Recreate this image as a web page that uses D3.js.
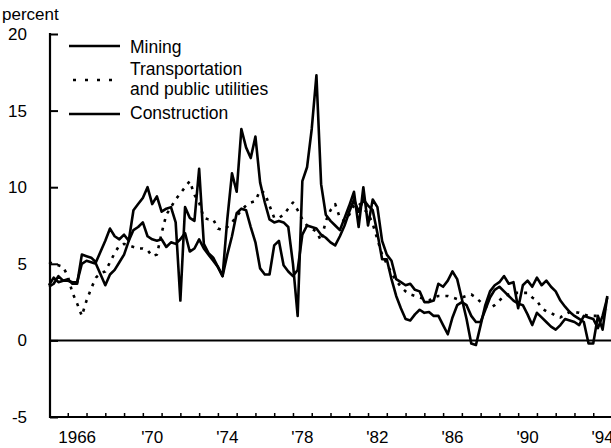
<!DOCTYPE html>
<html>
<head>
<meta charset="utf-8">
<script src="https://cdn.jsdelivr.net/npm/d3@7"></script>
<style>
  body { margin: 0; background: #fff; }
  svg { display: block; font-family: "Liberation Sans", Arial, Helvetica, sans-serif; }
</style>
</head>
<body>
<svg id="chart" width="611" height="448"></svg>
<script>
// quarterly series, 1965 Q1 .. 1994 Q4 (percent)
const startYear = 1965;

const mining = [
  3.6, 4.1, 3.8, 3.9,   4.0, 3.7, 3.7, 5.6,   5.5, 5.4, 5.1, 5.8,   6.5, 7.3, 6.8, 6.6,
  6.9, 6.5, 8.5, 8.9,   9.3, 10.0, 8.9, 9.4,  8.4, 8.6, 8.7, 7.7,   2.6, 8.7, 8.0, 7.8,
  11.2, 6.3, 5.7, 5.4,  4.8, 4.2, 7.9, 10.9,  9.7, 13.8, 12.6, 11.9, 13.3, 10.3, 9.0, 7.9,
  7.7, 7.8, 7.7, 7.4,   5.0, 1.6, 10.4, 11.3, 13.8, 17.3, 10.2, 8.2, 7.8, 7.5, 7.2, 8.0,
  8.8, 9.7, 7.4, 10.0,  7.5, 9.2, 8.7, 6.5,   5.6, 5.2, 4.0, 3.8,   3.6, 3.7, 3.3, 3.2,
  2.5, 2.5, 2.6, 3.7,   3.5, 3.9, 4.5, 4.0,   2.7, 1.4, -0.2, -0.3, 1.0, 2.3, 3.2, 3.6,
  3.8, 4.2, 3.7, 3.8,   2.1, 3.6, 3.9, 3.5,   4.1, 3.6, 3.9, 3.5,   3.2, 2.6, 2.2, 1.85,
  1.6, 1.4, 1.2, -0.2,  -0.2, 1.6, 0.7, 2.9
];

const transport = [
  5.1, 5.0, 4.9, 4.8,   4.2, 3.1, 2.4, 1.6,   2.6, 3.4, 4.1, 4.4,   4.5, 5.1, 5.7, 6.2,
  6.3, 6.2, 6.1, 6.0,   6.0, 5.9, 5.5, 5.6,   7.0, 8.2, 8.7, 9.2,   9.6, 10.0, 10.4, 9.5,
  9.0, 8.0, 7.9, 7.9,   7.3, 7.2, 7.4, 7.7,   8.1, 8.5, 8.8, 9.0,   9.1, 9.8, 9.6, 8.8,
  8.0, 8.0, 8.2, 8.6,   9.0, 8.5, 7.9, 7.5,   7.3, 7.1, 6.5, 7.8,   8.5, 8.9, 8.0, 7.8,
  8.2, 8.8, 9.0, 8.6,   8.3, 7.6, 6.6, 5.6,   5.0, 4.4, 3.9, 3.5,   3.2, 3.0, 2.9, 2.8,
  2.7, 2.6, 2.8, 2.9,   2.9, 2.9, 2.8, 2.7,   2.8, 2.9, 3.0, 2.8,   2.5, 2.2, 2.1, 2.3,
  2.6, 2.9, 3.0, 3.1,   3.1, 3.1, 3.1, 2.8,   2.6, 2.1, 1.9, 1.8,   1.6, 1.5, 1.7, 1.85,
  1.85, 1.8, 1.7, 1.6,  1.6, 1.6, 1.5, 2.0
];

const construction = [
  3.5, 3.7, 4.2, 3.9,   3.9, 3.8, 3.8, 5.0,   5.2, 5.1, 5.0, 4.3,   3.6, 4.3, 4.6, 5.1,
  5.6, 6.5, 7.2, 7.4,   7.7, 6.8, 6.6, 6.5,   6.6, 6.1, 6.4, 6.3,   6.6, 7.0, 5.8, 6.0,
  6.6, 6.0, 5.6, 5.2,   4.8, 4.2, 5.6, 6.8,   8.3, 8.6, 8.5, 7.4,   6.4, 4.7, 4.3, 4.3,
  6.2, 6.5, 4.9, 4.5,   4.2, 4.6, 6.9, 7.5,   7.4, 7.3, 6.9, 6.7,   6.4, 6.2, 6.8, 7.5,
  8.4, 9.2, 8.4, 9.2,   8.8, 8.5, 7.0, 5.3,   5.3, 4.0, 2.9, 2.1,   1.4, 1.3, 1.7, 2.0,
  1.8, 1.85, 1.6, 1.6,  1.0, 0.4, 1.5, 2.3,   2.5, 2.3, 1.6, 1.2,   1.2, 2.0, 2.8, 3.3,
  3.5, 3.2, 2.9, 2.6,   2.4, 2.3, 1.7, 1.0,   1.8, 1.5, 1.2, 0.9,   0.7, 1.0, 1.4, 1.3,
  1.2, 1.0, 1.6, 1.5,   1.4, 0.8, 1.6, 2.8
];

const yTicks = [-5, 0, 5, 10, 15, 20];
const xLabelYears = [1966, 1970, 1974, 1978, 1982, 1986, 1990, 1994];
const xLabels = ["1966", "'70", "'74", "'78", "'82", "'86", "'90", "'94"];
const legendNames = ["Mining", "Transportation|and public utilities", "Construction"];

const svg = d3.select("#chart");

const x = d3.scaleLinear().domain([1965, 1995]).range([49, 612]);
const y = d3.scaleLinear().domain([-5, 20]).range([417, 34]);

const quarterDate = (i) => startYear + i / 4;

// axes ------------------------------------------------------
const yAxis = d3.axisRight(y).tickValues(yTicks).tickSize(8).tickFormat("");
svg.append("g")
  .attr("transform", "translate(50,0)")
  .call(yAxis)
  .call(g => g.select(".domain").remove())
  .call(g => g.selectAll("line").attr("stroke", "#000").attr("stroke-width", 2));

svg.append("line")
  .attr("x1", 50).attr("x2", 50).attr("y1", y(20) - 1).attr("y2", y(-5) + 1)
  .attr("stroke", "#000").attr("stroke-width", 2.2);

const xAxis = d3.axisTop(x).tickValues(d3.range(1966, 1995)).tickSize(4).tickFormat("");
svg.append("g")
  .attr("transform", `translate(0,${y(-5)})`)
  .call(xAxis)
  .call(g => g.select(".domain").remove())
  .call(g => g.selectAll("line").attr("stroke", "#000").attr("stroke-width", 1.5));

svg.append("line")
  .attr("x1", 49).attr("x2", 611).attr("y1", y(-5)).attr("y2", y(-5))
  .attr("stroke", "#000").attr("stroke-width", 2.2);

// zero line
svg.append("line")
  .attr("x1", 50).attr("x2", 611).attr("y1", y(0)).attr("y2", y(0))
  .attr("stroke", "#000").attr("stroke-width", 2);

// tick labels
svg.append("g").selectAll("text")
  .data(yTicks)
  .join("text")
  .attr("x", 27)
  .attr("y", d => y(d) + 6)
  .attr("text-anchor", "end")
  .attr("font-size", 17)
  .text(d => d);

svg.append("g").selectAll("text")
  .data(xLabelYears)
  .join("text")
  .attr("x", d => x(d + 0.5))
  .attr("y", 443)
  .attr("text-anchor", "middle")
  .attr("font-size", 17)
  .text((d, i) => xLabels[i]);

svg.append("text")
  .attr("x", 2).attr("y", 20)
  .attr("font-size", 17)
  .text("percent");

// lines -----------------------------------------------------
const line = d3.line()
  .x((d, i) => x(quarterDate(i)))
  .y(d => y(d));

const series = [
  { values: construction, dash: null },
  { values: mining, dash: null },
  { values: transport, dash: "3,6" }
];

svg.append("g").selectAll("path")
  .data(series)
  .join("path")
  .attr("d", d => line(d.values))
  .attr("fill", "none")
  .attr("stroke", "#000")
  .attr("stroke-width", 2.6)
  .attr("stroke-linejoin", "round")
  .attr("stroke-dasharray", d => d.dash);

// legend ----------------------------------------------------
const legendRows = [
  { lineY: 46, dash: null, texts: [["Mining", 53]] },
  { lineY: 80, dash: "3,9", texts: [["Transportation", 75], ["and public utilities", 95]] },
  { lineY: 114, dash: null, texts: [["Construction", 119]] }
];

const lg = svg.append("g");
legendRows.forEach((r, i) => {
  lg.append("line")
    .attr("x1", r.dash ? 73 : 69).attr("x2", 120)
    .attr("y1", r.lineY).attr("y2", r.lineY)
    .attr("stroke", "#000").attr("stroke-width", 2.6)
    .attr("stroke-dasharray", r.dash);
  const names = legendNames[i].split("|");
  r.texts.forEach((t, j) => {
    lg.append("text")
      .attr("x", 130).attr("y", t[1])
      .attr("font-size", 17.5)
      .text(names[j]);
  });
});
</script>
</body>
</html>
